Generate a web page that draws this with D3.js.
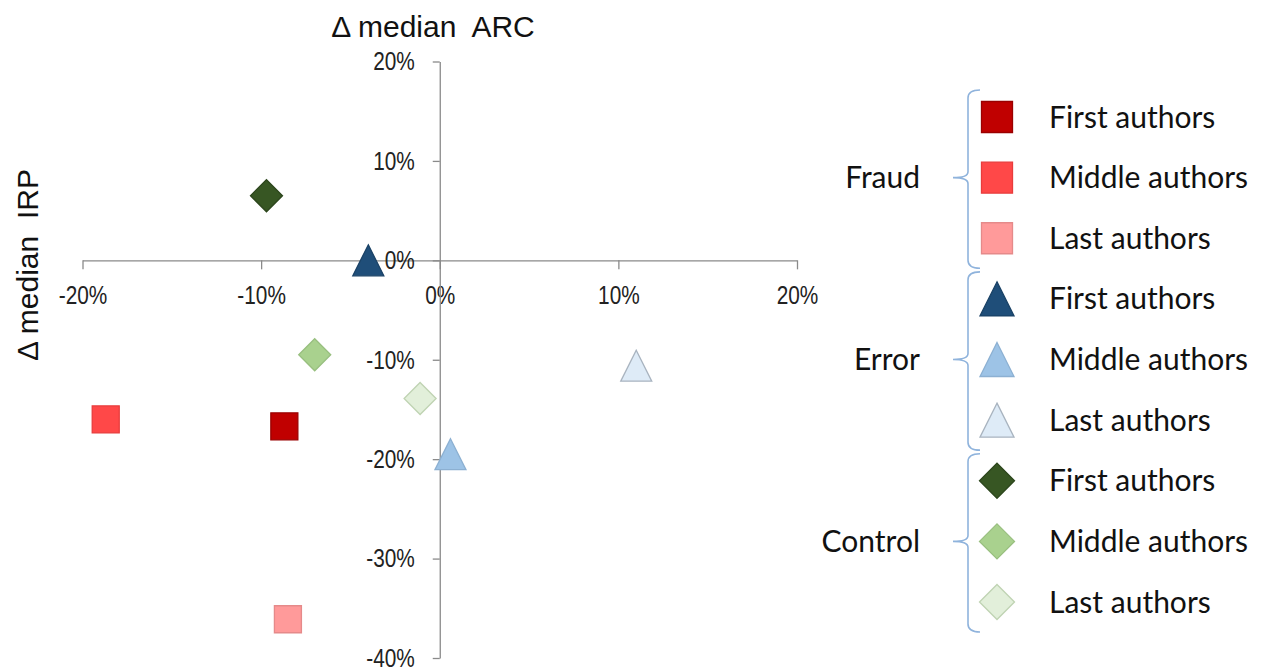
<!DOCTYPE html>
<html>
<head>
<meta charset="utf-8">
<script src="https://d3js.org/d3.v7.min.js"></script>
<style>
  body { margin: 0; background: #fff; }
  .tick text { font-family: "Liberation Sans", Arial, sans-serif; font-size: 26px; fill: #222; }
  .axis path, .axis line { stroke: #8a8a8a; stroke-width: 1.3px; }
</style>
</head>
<body>
<div id="chart"></div>
<script>
// groups, roles and the read-off values (fractions)
var groups = ["Fraud", "Error", "Control"];
var roles = ["First authors", "Middle authors", "Last authors"];
var xTicks = [-0.2, -0.1, 0, 0.1, 0.2];
var yTicks = [0.2, 0.1, 0, -0.1, -0.2, -0.3, -0.4];

var fraudArc   = [-0.087, -0.187, -0.085];
var fraudIrp   = [-0.167, -0.160, -0.361];
var errorArc   = [-0.040, 0.006, 0.110];
var errorIrp   = [0.000, -0.195, -0.106];
var controlArc = [-0.097, -0.070, -0.011];
var controlIrp = [0.065, -0.095, -0.139];

var fraudFill   = ["#C00000", "#FF4848", "#FF9A9A"];
var fraudLine   = ["#9a0000", "#e83c3c", "#e58a8a"];
var errorFill   = ["#1F4E79", "#9DC3E6", "#DEEBF7"];
var errorLine   = ["#1a4266", "#8cb0d2", "#a9b4c0"];
var controlFill = ["#375623", "#A9D18E", "#E2EFDA"];
var controlLine = ["#2c461c", "#98bf7f", "#bfd3b2"];

var shapes = ["square", "triangle", "diamond"];

var W = 1268, H = 668;
var svg = d3.select("#chart").append("svg").attr("width", W).attr("height", H);

var x = d3.scaleLinear().domain([-0.2, 0.2]).range([82.5, 797]);
var y = d3.scaleLinear().domain([0.2, -0.4]).range([61.5, 658]);
// plain hyphen like the original, not the unicode minus
var pct = function (v) { return d3.format(".0%")(v).replace("\u2212", "-"); };
var squeeze = 0.8;

// x axis through y=0
var xAxis = svg.append("g").attr("class", "axis")
  .attr("transform", "translate(0," + y(0) + ")")
  .call(d3.axisBottom(x).tickValues(xTicks).tickFormat(pct).tickSize(9).tickSizeOuter(0).tickPadding(16));
xAxis.selectAll(".tick text").attr("transform", "scale(" + squeeze + ",1)");

// y axis through x=0
var yAxis = svg.append("g").attr("class", "axis")
  .attr("transform", "translate(" + x(0) + ",0)")
  .call(d3.axisLeft(y).tickValues(yTicks).tickFormat(pct).tickSize(7).tickSizeOuter(0).tickPadding(18));
yAxis.selectAll(".tick text")
  .attr("x", -25 / squeeze)
  .attr("transform", "scale(" + squeeze + ",1)");

// titles
svg.append("text")
  .attr("x", 433).attr("y", 37)
  .style("text-anchor", "middle")
  .style("font-family", "Liberation Sans, Arial, sans-serif")
  .style("font-size", "30px").style("fill", "#111")
  .text("\u0394 median\u00a0 ARC");

svg.append("text")
  .attr("transform", "translate(38,265) rotate(-90)")
  .style("text-anchor", "middle")
  .style("font-family", "Liberation Sans, Arial, sans-serif")
  .style("font-size", "30px").style("fill", "#111")
  .text("\u0394 median\u00a0 IRP");

// marker outline relative to its centre
function markerPath(shape, s) {
  var h = s / 2;
  if (shape == "square") return "M" + (-h) + "," + (-h) + "h" + s + "v" + s + "h" + (-s) + "Z";
  if (shape == "triangle") return "M0," + (-h) + "L" + h + "," + h + "L" + (-h) + "," + h + "Z";
  return "M0," + (-h) + "L" + h + ",0L0," + h + "L" + (-h) + ",0Z";
}

var series = [
  { arc: fraudArc, irp: fraudIrp, fill: fraudFill, line: fraudLine },
  { arc: errorArc, irp: errorIrp, fill: errorFill, line: errorLine },
  { arc: controlArc, irp: controlIrp, fill: controlFill, line: controlLine }
];

var sizes = { square: 27, triangle: 31, diamond: 32 };
var legendSizes = { square: 31, triangle: 34, diamond: 35 };

var plot = svg.append("g");
series.forEach(function (s, gi) {
  roles.forEach(function (r, ri) {
    plot.append("path")
      .attr("d", markerPath(shapes[gi], sizes[shapes[gi]]))
      .attr("transform", "translate(" + x(s.arc[ri]) + "," + y(s.irp[ri]) + ")")
      .attr("fill", s.fill[ri])
      .attr("stroke", s.line[ri])
      .attr("stroke-width", 1.3);
  });
});

// legend with braces
var legend = svg.append("g");
var rowY = d3.scaleLinear().domain([0, 8]).range([117, 602]);
var braceColor = "#8fb3dc";
var legendFont = "Lato, 'Open Sans', sans-serif";

groups.forEach(function (g, gi) {
  var top = rowY(gi * 3) - 27, bot = rowY(gi * 3 + 2) + 30, mid = rowY(gi * 3 + 1);
  var bx = 968;
  legend.append("path")
    .attr("d", "M" + (bx + 12) + "," + top + " Q" + bx + "," + top + " " + bx + "," + (top + 8) +
      " L" + bx + "," + (mid - 6) + " Q" + bx + "," + mid + " " + (bx - 15) + "," + mid +
      " Q" + bx + "," + mid + " " + bx + "," + (mid + 6) +
      " L" + bx + "," + (bot - 8) + " Q" + bx + "," + bot + " " + (bx + 12) + "," + bot)
    .attr("fill", "none")
    .attr("stroke", braceColor)
    .attr("stroke-width", 1.6);

  legend.append("text")
    .attr("x", 920).attr("y", mid)
    .attr("dy", "0.35em")
    .style("text-anchor", "end")
    .style("font-family", legendFont)
    .style("font-size", "30px").style("fill", "#111")
    .text(g);

  roles.forEach(function (r, ri) {
    var ry = rowY(gi * 3 + ri);
    legend.append("path")
      .attr("d", markerPath(shapes[gi], legendSizes[shapes[gi]]))
      .attr("transform", "translate(997," + ry + ")")
      .attr("fill", series[gi].fill[ri])
      .attr("stroke", series[gi].line[ri])
      .attr("stroke-width", 1.3);
    legend.append("text")
      .attr("x", 1049).attr("y", ry)
      .attr("dy", "0.35em")
      .style("font-family", legendFont)
      .style("font-size", "30px").style("fill", "#111")
      .text(r);
  });
});
</script>
</body>
</html>
